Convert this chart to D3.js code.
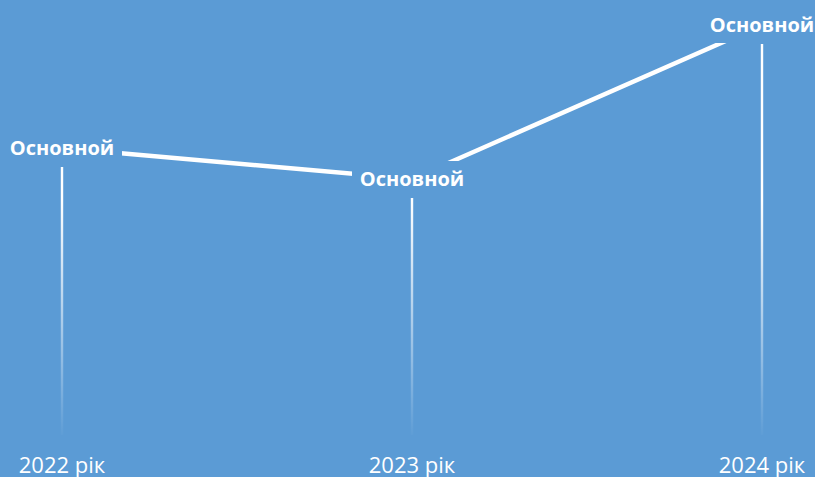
<!DOCTYPE html>
<html>
<head>
<meta charset="utf-8">
<script src="https://cdn.jsdelivr.net/npm/d3@7"></script>
<style>
  html, body { margin: 0; padding: 0; background: #5b9bd5; }
  svg { display: block; }
</style>
</head>
<body>
<div id="chart"></div>
<script>
const years = ["2022 рік", "2023 рік", "2024 рік"];
const values = [2.87, 2.56, 4.10];
const pointLabels = ["Основной", "Основной", "Основной"];

const data = years.map((y, i) => ({ year: y, value: values[i], label: pointLabels[i] }));

const W = 815, H = 477;
const bg = "#5b9bd5";

const svg = d3.select("#chart")
    .append("svg")
    .attr("width", W)
    .attr("height", H);

svg.append("rect").attr("width", W).attr("height", H).attr("fill", bg);

// x: category centres, y: plot bottom at 435
const x = d3.scalePoint()
    .domain(years)
    .range([62, 762]);

const y = d3.scaleLinear()
    .domain([0, 4.2])
    .range([435, 15]);

const boxW = 120, boxH = 36;

// fading gradient for drop lines
const grad = svg.append("defs").append("linearGradient")
    .attr("id", "fade")
    .attr("gradientUnits", "userSpaceOnUse")
    .attr("x1", 0).attr("y1", 200)
    .attr("x2", 0).attr("y2", 440);
grad.append("stop").attr("offset", 0).attr("stop-color", "#fff").attr("stop-opacity", 1);
grad.append("stop").attr("offset", 1).attr("stop-color", "#fff").attr("stop-opacity", 0);

// drop lines from label box to baseline
svg.selectAll(".drop")
    .data(data)
    .enter()
    .append("line")
    .attr("class", "drop")
    .attr("x1", d => x(d.year))
    .attr("x2", d => x(d.year))
    .attr("y1", d => y(d.value) + boxH / 2 + 1)
    .attr("y2", y(0))
    .attr("stroke", "url(#fade)")
    .attr("stroke-width", 2.4);

// main line
const line = d3.line()
    .x(d => x(d.year))
    .y(d => y(d.value));

svg.append("path")
    .datum(data)
    .attr("d", line)
    .attr("fill", "none")
    .attr("stroke", "#fff")
    .attr("stroke-width", 4.5);

// label boxes hide the line under the labels
svg.selectAll(".lbox")
    .data(data)
    .enter()
    .append("rect")
    .attr("class", "lbox")
    .attr("x", d => x(d.year) - boxW / 2)
    .attr("y", d => y(d.value) - boxH / 2)
    .attr("width", boxW)
    .attr("height", boxH)
    .attr("fill", bg);

svg.selectAll(".lbl")
    .data(data)
    .enter()
    .append("text")
    .attr("class", "lbl")
    .attr("x", d => x(d.year))
    .attr("y", d => y(d.value) + 7)
    .attr("text-anchor", "middle")
    .attr("fill", "#fff")
    .style("font-family", "'Open Sans', sans-serif")
    .style("font-weight", "bold")
    .style("font-size", "20px")
    .text(d => d.label);

// category labels
svg.selectAll(".year")
    .data(data)
    .enter()
    .append("text")
    .attr("class", "year")
    .attr("x", d => x(d.year))
    .attr("y", 473)
    .attr("text-anchor", "middle")
    .attr("fill", "#fff")
    .style("font-family", "'Open Sans', sans-serif")
    .style("font-size", "22px")
    .text(d => d.year);
</script>
</body>
</html>
